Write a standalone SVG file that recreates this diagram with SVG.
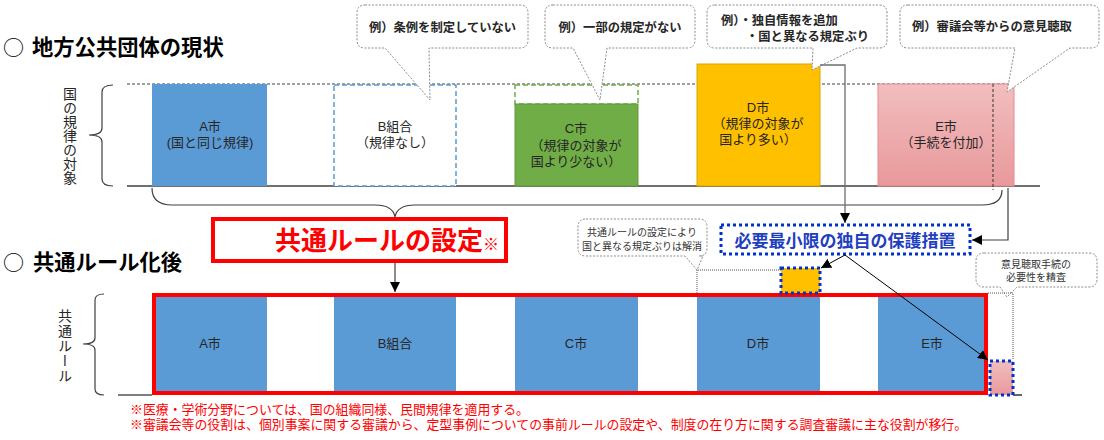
<svg xmlns="http://www.w3.org/2000/svg" width="1104" height="440" viewBox="0 0 1104 440">
<defs>
<linearGradient id="pink" x1="0" y1="0" x2="0" y2="1"><stop offset="0" stop-color="#F2BEBF"/><stop offset="1" stop-color="#E8999B"/></linearGradient>
<marker id="ah" viewBox="0 0 10 10" refX="10" refY="5" markerWidth="10" markerHeight="10" orient="auto" markerUnits="userSpaceOnUse"><path d="M0,0 L10,5 L0,10 z" fill="#000"/></marker>
<style>
text{font-family:"Liberation Sans","Noto Sans CJK JP",sans-serif;}
.title{font-size:21.3px;font-weight:bold;fill:#000}
.circ{font-family:"Noto Sans CJK JP",sans-serif;font-size:21px;fill:#000}
.lbl{font-size:13px;fill:#262626;text-anchor:middle}
.vlbl{font-size:14px;fill:#262626;text-anchor:middle;writing-mode:vertical-rl}
.co{fill:#fff;stroke:#8C8C8C;stroke-width:1;stroke-dasharray:2 1.5}
.cot{font-size:12.3px;font-weight:bold;fill:#262626}
.small{font-size:10px;fill:#333;text-anchor:middle}
.blue{stroke:#0033CC;stroke-width:3;stroke-dasharray:3 3}
.note{font-size:12.9px;fill:#FF0000}
.col{fill:#5B9BD5}
.conn{fill:none;stroke:#404040;stroke-width:1.2}
.dot{fill:none;stroke:#555;stroke-width:1;stroke-dasharray:1 1}
</style>
</defs>
<rect width="1104" height="440" fill="#fff"/>

<g id="titles">
<text class="circ" x="3" y="55">○</text>
<text class="title" x="32" y="55">地方公共団体の現状</text>
<text class="circ" x="3" y="270">○</text>
<text class="title" x="33" y="270">共通ルール化後</text>
</g>

<g id="axis-top">
<line x1="127" y1="84" x2="1018" y2="84" stroke="#404040" stroke-width="1" stroke-dasharray="3 2"/>
<line x1="127" y1="186" x2="1040" y2="186" stroke="#404040" stroke-width="1.3"/>
<path class="conn" d="M113,85 Q102,85 102,92 L102,128 Q102,135 89,135 Q102,135 102,142 L102,179 Q102,186 113,186"/>
<text class="vlbl" x="69" y="136">国の規律の対象</text>
</g>

<g id="node-A-top">
<rect x="152" y="84" width="115" height="102" fill="#5B9BD5"/>
<text class="lbl" x="210" y="131">A市</text>
<text class="lbl" x="210" y="147">(国と同じ規律)</text>
</g>
<g id="node-B-top">
<rect x="334" y="85" width="122" height="101" fill="#fff" stroke="#5B9BD5" stroke-width="1.5" stroke-dasharray="5 3"/>
<text class="lbl" x="395" y="131">B組合</text>
<text class="lbl" x="395" y="147">（規律なし）</text>
</g>
<g id="node-C-top">
<rect x="515" y="85" width="123" height="19" fill="#fff" stroke="#70AD47" stroke-width="1.5" stroke-dasharray="5 3"/>
<rect x="515" y="104" width="123" height="82" fill="#70AD47" stroke="#5E9A3A" stroke-width="1"/>
<text class="lbl" x="576" y="133">C市</text>
<text class="lbl" x="576" y="150">（規律の対象が</text>
<text class="lbl" x="576" y="166">国より少ない）</text>
</g>
<g id="node-D-top">
<rect x="697" y="64" width="123" height="122" fill="#FFC000" stroke="#D9A300" stroke-width="1"/>
<text class="lbl" x="758" y="112">D市</text>
<text class="lbl" x="758" y="128">（規律の対象が</text>
<text class="lbl" x="758" y="144">国より多い）</text>
</g>
<g id="node-E-top">
<rect x="878" y="84" width="136" height="102" fill="url(#pink)" stroke="#E58A8C" stroke-width="1"/>
<line x1="993" y1="84" x2="993" y2="190" stroke="#333" stroke-width="1" stroke-dasharray="3 2"/>
<text class="lbl" x="946" y="131">E市</text>
<text class="lbl" x="946" y="147">（手続を付加）</text>
</g>

<g id="callout-1">
<path class="co" d="M365,5 H520 Q528,5 528,13 V40 Q528,48 520,48 H429 L430,100 L385,48 H365 Q357,48 357,40 V13 Q357,5 365,5 Z"/>
<text class="cot" x="442.5" y="32" text-anchor="middle">例）条例を制定していない</text>
</g>
<g id="callout-2">
<path class="co" d="M553,5 H687 Q695,5 695,13 V40 Q695,48 687,48 H607 L600,100 L573,48 H553 Q545,48 545,40 V13 Q545,5 553,5 Z"/>
<text class="cot" x="620" y="32" text-anchor="middle">例）一部の規定がない</text>
</g>
<g id="callout-3">
<path class="co" d="M715,5 H879 Q887,5 887,13 V40 Q887,48 879,48 H857 L812,70 L813,48 H715 Q707,48 707,40 V13 Q707,5 715,5 Z"/>
<text class="cot" x="721" y="25">例）・独自情報を追加</text>
<text class="cot" x="746" y="41">・国と異なる規定ぶり</text>
</g>
<g id="callout-4">
<path class="co" d="M908,5 H1091 Q1099,5 1099,13 V40 Q1099,48 1091,48 H1070 L1007,92 L1015,48 H908 Q900,48 900,40 V13 Q900,5 908,5 Z"/>
<text class="cot" x="912" y="31">例）審議会等からの意見聴取</text>
</g>

<g id="node-common-rule">
<rect x="213" y="219" width="293" height="42" fill="#fff" stroke="#FF0000" stroke-width="4"/>
<text x="275" y="250" font-size="26" font-weight="bold" fill="#FF0000">共通ルールの設定<tspan font-size="16">※</tspan></text>
</g>

<g id="node-protect">
<rect x="721" y="225" width="249" height="29" fill="#fff" class="blue"/>
<text x="845" y="247" font-size="17" font-weight="bold" fill="#1F3FBF" text-anchor="middle">必要最小限の独自の保護措置</text>
</g>

<g id="callout-5">
<path class="co" d="M586,219 H699 Q707,219 707,227 V248 Q707,256 699,256 H703 L697,270 L685,256 H586 Q578,256 578,248 V227 Q578,219 586,219 Z"/>
<text class="small" x="642" y="236">共通ルールの設定により</text>
<text class="small" x="642" y="250">国と異なる規定ぶりは解消</text>
</g>
<g id="callout-6">
<path class="co" d="M984,253 H1089 Q1097,253 1097,261 V279 Q1097,287 1089,287 H1017 L1007,297 L1000,287 H984 Q976,287 976,279 V261 Q976,253 984,253 Z"/>
<text class="small" x="1036" y="268">意見聴取手続の</text>
<text class="small" x="1036" y="281">必要性を精査</text>
</g>

<g id="axis-bottom">
<line x1="118" y1="395" x2="152" y2="395" stroke="#000" stroke-width="1.2"/>
<line x1="1013" y1="395" x2="1022" y2="395" stroke="#000" stroke-width="1.2"/>
<path class="conn" d="M104,294 Q95,294 95,300 L95,338 Q95,344 83,344 Q95,344 95,350 L95,389 Q95,395 104,395"/>
<text class="vlbl" x="64" y="346" letter-spacing="1">共通ルール</text>
</g>

<g id="node-common-block">
<rect class="col" x="152" y="293" width="115" height="102"/>
<rect class="col" x="334" y="293" width="122" height="102"/>
<rect class="col" x="515" y="293" width="123" height="102"/>
<rect class="col" x="697" y="293" width="123" height="102"/>
<rect class="col" x="878" y="293" width="110" height="102"/>
<rect x="154" y="295" width="832" height="98" fill="none" stroke="#FF0000" stroke-width="4"/>
<text class="lbl" x="210" y="348">A市</text>
<text class="lbl" x="395" y="348">B組合</text>
<text class="lbl" x="576" y="348">C市</text>
<text class="lbl" x="758" y="348">D市</text>
<text class="lbl" x="932" y="348">E市</text>
</g>

<g id="node-D-extra">
<rect x="781" y="268" width="39" height="25" fill="#FFC000" class="blue"/>
</g>
<g id="node-E-extra">
<rect x="990" y="361" width="23" height="34" fill="url(#pink)" class="blue"/>
</g>

<g id="connectors">
<path class="conn" d="M152,188 Q152,205 172,205 L375,205 Q393,205 395,217 Q397,205 415,205 L982,205 Q1002,205 1002,190"/>
<polyline points="820,65 845,65 845,223" fill="none" stroke="#6E6E6E" stroke-width="1.3" marker-end="url(#ah)"/>
<polyline points="1008,188 1008,240 972,240" fill="none" stroke="#404040" stroke-width="1.2" marker-end="url(#ah)"/>
<line x1="395" y1="263" x2="395" y2="292" stroke="#404040" stroke-width="1.2" marker-end="url(#ah)"/>
<line x1="845" y1="255" x2="821" y2="268" stroke="#000" stroke-width="1" marker-end="url(#ah)"/>
<line x1="845" y1="255" x2="988" y2="360" stroke="#000" stroke-width="1" marker-end="url(#ah)"/>
<path class="dot" d="M697,293 V270 H781"/>
<path class="dot" d="M988,293 H1013 V360"/>
</g>

<g id="notes">
<text class="note" x="130" y="414">※医療・学術分野については、国の組織同様、民間規律を適用する。</text>
<text class="note" x="130" y="429">※審議会等の役割は、個別事案に関する審議から、定型事例についての事前ルールの設定や、制度の在り方に関する調査審議に主な役割が移行。</text>
</g>
</svg>
